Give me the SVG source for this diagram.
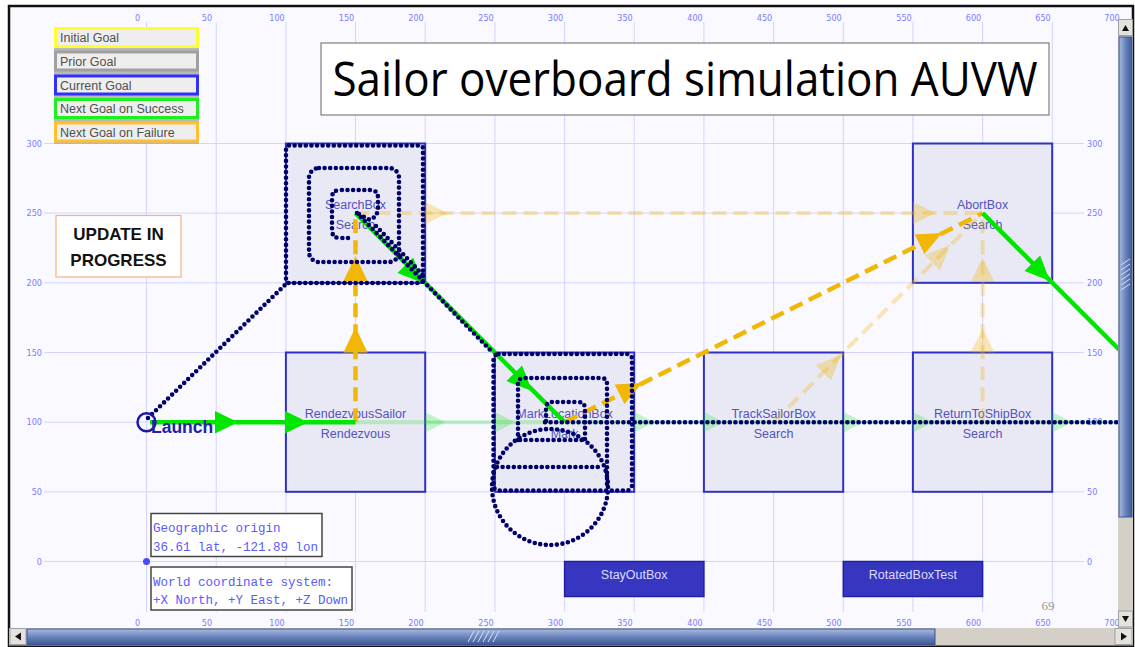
<svg xmlns="http://www.w3.org/2000/svg" width="1135" height="647" viewBox="0 0 1135 647">
<defs>
<style>
.grid{stroke:#d4d4ff;stroke-width:1;fill:none}
.tick{font-family:"DejaVu Sans Condensed","Liberation Sans",sans-serif;font-size:9px;fill:#7b7bff}
.box{fill:#e9e9f5;stroke:#3030c4;stroke-width:2}
.lbl{font-family:"Liberation Sans",Arial,sans-serif;font-size:12.5px;fill:#5353c0;text-anchor:middle}
.leg{font-family:"Liberation Sans",Arial,sans-serif;font-size:12.5px;fill:#505050}
.dots{fill:none;stroke:#00006a;stroke-width:4.6;stroke-linecap:round;stroke-dasharray:0 5.6}
.gr{fill:none;stroke:#00e600;stroke-width:4.5}
.grh{fill:#00e600}
.grf{fill:none;stroke:#00e000;stroke-width:4;opacity:0.22}
.grfh{fill:#00e000;opacity:0.22}
.or{fill:none;stroke:#f2b705;stroke-width:4.5;stroke-dasharray:14 7}
.orh{fill:#f2b705}
.orf{fill:none;stroke:#f2b705;stroke-width:4;stroke-dasharray:14 7;opacity:0.3}
.orfh{fill:#f2b705;opacity:0.3}
.mono{font-family:"Liberation Mono","DejaVu Sans Mono",monospace;font-size:12.5px;fill:#5a5aff}
.blk{font-family:"Liberation Sans",Arial,sans-serif;font-size:12.5px;fill:#dcdcff;text-anchor:middle}
</style>
<linearGradient id="vthumb" x1="0" y1="0" x2="1" y2="0">
<stop offset="0" stop-color="#a9bbe0"/><stop offset="0.5" stop-color="#6a84bd"/><stop offset="1" stop-color="#3f5a96"/>
</linearGradient>
<linearGradient id="hthumb" x1="0" y1="0" x2="0" y2="1">
<stop offset="0" stop-color="#a9bbe0"/><stop offset="0.5" stop-color="#6a84bd"/><stop offset="1" stop-color="#3f5a96"/>
</linearGradient>
</defs>
<rect width="1135" height="647" fill="#ffffff"/>
<rect x="9" y="6" width="1124" height="640" fill="#f9f9ff" stroke="#111" stroke-width="2.5"/>

<g id="grid">
<path class="grid" d="M146.5,22V612M216.2,22V612M285.9,22V612M355.5,22V612M425.2,22V612M494.9,22V612M564.6,22V612M634.2,22V612M703.9,22V612M773.6,22V612M843.3,22V612M912.9,22V612M982.6,22V612M1052.3,22V612M1122,22V612"/>
<path class="grid" d="M44,143.5H1084M44,213.1H1084M44,282.8H1084M44,352.5H1084M44,422.2H1084M44,491.8H1084M44,561.5H1084"/>
<g class="tick" text-anchor="middle">
<text x="137.5" y="21">0</text><text x="207" y="21">50</text><text x="277" y="21">100</text><text x="346.5" y="21">150</text><text x="416" y="21">200</text><text x="486" y="21">250</text><text x="555.5" y="21">300</text><text x="625" y="21">350</text><text x="695" y="21">400</text><text x="764.5" y="21">450</text><text x="834" y="21">500</text><text x="904" y="21">550</text><text x="973.5" y="21">600</text><text x="1043" y="21">650</text><text x="1112" y="21">700</text>
<text x="137.5" y="626">0</text><text x="207" y="626">50</text><text x="277" y="626">100</text><text x="346.5" y="626">150</text><text x="416" y="626">200</text><text x="486" y="626">250</text><text x="555.5" y="626">300</text><text x="625" y="626">350</text><text x="695" y="626">400</text><text x="764.5" y="626">450</text><text x="834" y="626">500</text><text x="904" y="626">550</text><text x="973.5" y="626">600</text><text x="1043" y="626">650</text><text x="1112" y="626">700</text>
</g>
<g class="tick" text-anchor="end">
<text x="42" y="146.5">300</text><text x="42" y="216">250</text><text x="42" y="286">200</text><text x="42" y="355.5">150</text><text x="42" y="425">100</text><text x="42" y="495">50</text><text x="42" y="564.5">0</text>
</g>
<g class="tick">
<text x="1087" y="146.5">300</text><text x="1087" y="216">250</text><text x="1087" y="286">200</text><text x="1087" y="355.5">150</text><text x="1087" y="425">100</text><text x="1087" y="495">50</text><text x="1087" y="564.5">0</text>
</g>
<circle cx="146.5" cy="561.5" r="3.5" fill="#4a4aff"/>
</g>

<g id="legend">
<rect x="54" y="27" width="145" height="117" fill="#b8b8b8"/>
<rect x="55.5" y="28.5" width="142" height="18" fill="#eeeeee" stroke="#ffff30" stroke-width="3"/>
<rect x="55.5" y="52" width="142" height="18" fill="#eeeeee" stroke="#a0a0a0" stroke-width="3"/>
<rect x="55.5" y="76" width="142" height="18" fill="#eeeeee" stroke="#3030ff" stroke-width="3"/>
<rect x="55.5" y="99.5" width="142" height="18" fill="#eeeeee" stroke="#20ee20" stroke-width="3"/>
<rect x="55.5" y="123" width="142" height="18" fill="#eeeeee" stroke="#ffc030" stroke-width="3"/>
<text class="leg" x="60" y="42">Initial Goal</text>
<text class="leg" x="60" y="65.5">Prior Goal</text>
<text class="leg" x="60" y="89.5">Current Goal</text>
<text class="leg" x="60" y="113">Next Goal on Success</text>
<text class="leg" x="60" y="136.5">Next Goal on Failure</text>
</g>

<g id="title">
<rect x="321" y="43" width="728" height="72" fill="#ffffff" stroke="#666" stroke-width="1"/>
<text x="685" y="96" font-family="'Open Sans','Noto Sans',sans-serif" font-size="47" fill="#000" text-anchor="middle" textLength="705" lengthAdjust="spacingAndGlyphs">Sailor overboard simulation AUVW</text>
</g>

<g id="update">
<rect x="56" y="215.5" width="125" height="61.5" fill="#ffffff" stroke="#f4b183" stroke-width="1.2"/>
<text x="118.5" y="240" font-family="'Liberation Sans',Arial,sans-serif" font-weight="bold" font-size="17" fill="#111" text-anchor="middle">UPDATE IN</text>
<text x="118.5" y="266" font-family="'Liberation Sans',Arial,sans-serif" font-weight="bold" font-size="17" fill="#111" text-anchor="middle">PROGRESS</text>
</g>

<g id="searchbox">
<rect class="box" x="285.9" y="143.5" width="139.3" height="139.3" stroke="#22229a"/>
<text class="lbl" x="355.5" y="209">SearchBox</text>
<text class="lbl" x="355.5" y="229">Search</text>
</g>
<g id="rendezvous">
<rect class="box" x="285.9" y="352.5" width="139.3" height="139.3" stroke="#ffff40"/>
<text class="lbl" x="355.5" y="418">RendezvousSailor</text>
<text class="lbl" x="355.5" y="438">Rendezvous</text>
</g>
<g id="marklocation">
<rect class="box" x="494.9" y="352.5" width="139.3" height="139.3"/>
<text class="lbl" x="564.6" y="418">MarkLocationBox</text>
<text class="lbl" x="564.6" y="438">Mark</text>
</g>
<g id="tracksailor">
<rect class="box" x="703.9" y="352.5" width="139.3" height="139.3"/>
<text class="lbl" x="773.6" y="418">TrackSailorBox</text>
<text class="lbl" x="773.6" y="438">Search</text>
</g>
<g id="returntoship">
<rect class="box" x="912.9" y="352.5" width="139.3" height="139.3"/>
<text class="lbl" x="982.6" y="418">ReturnToShipBox</text>
<text class="lbl" x="982.6" y="438">Search</text>
</g>
<g id="abortbox">
<rect class="box" x="912.9" y="143.5" width="139.3" height="139.3"/>
<text class="lbl" x="982.6" y="209">AbortBox</text>
<text class="lbl" x="982.6" y="229">Search</text>
</g>
<g id="stayout">
<rect x="564.6" y="561.5" width="139.3" height="35" fill="#3636c0" stroke="#2020a0" stroke-width="1.5"/>
<text class="blk" x="634.2" y="579">StayOutBox</text>
</g>
<g id="rotatedbox">
<rect x="843.3" y="561.5" width="139.3" height="35" fill="#3636c0" stroke="#2020a0" stroke-width="1.5"/>
<text class="blk" x="912.9" y="579">RotatedBoxTest</text>
</g>

<g id="connectors">
<path class="grf" d="M355.5,422.2H1125"/>
<path class="grfh" d="M425.2,412L445.2,422.2L425.2,432.4ZM494.9,412L514.9,422.2L494.9,432.4ZM634.2,412L654.2,422.2L634.2,432.4ZM703.9,412L723.9,422.2L703.9,432.4ZM843.3,412L863.3,422.2L843.3,432.4ZM912.9,412L932.9,422.2L912.9,432.4ZM1052.3,412L1072.3,422.2L1052.3,432.4Z"/>
<path class="orf" d="M355.5,213.1H982.6M773.6,422.2L982.6,213.1M982.6,422.2V213.1"/>
<path class="orfh" d="M425.2,202L448,213.1L425.2,224.2ZM912.9,202L935.7,213.1L912.9,224.2ZM831.1,380.5L841,355L815.5,364.9ZM940.1,270.5L950,245L924.5,254.9ZM970.6,352.5L982.6,329L994.6,352.5ZM970.6,282L982.6,258L994.6,282Z"/>
<path class="or" d="M355.5,422.2V213.1M564.6,422.2L982.6,213.1"/>
<path class="orh" d="M343.5,352.5L355.5,327L367.5,352.5ZM343.5,281L355.5,256L367.5,281ZM624.5,404L642,383L614.7,384.4ZM924.5,254L942,233L914.7,234.4Z"/>
<path class="gr" d="M150,422.2H355.5M355.5,213.1L564.6,422.2M982.6,213.1L1130,360.5"/>
<path class="grh" d="M215,411L238,422.2L215,433.4ZM285,411L308,422.2L285,433.4ZM397.5,273.1L423,283L413.1,257.5ZM506.5,381.1L532,391L522.1,365.5ZM1024.5,271.1L1050,281L1040.1,255.5Z"/>
</g>

<g id="trajectory">
<path class="dots" d="M148,418L286,284"/>
<rect class="dots" x="286" y="145.5" width="137" height="137.5" rx="3"/>
<rect class="dots" x="309" y="168" width="90" height="94" rx="10"/>
<path class="dots" d="M348,238H340Q332,238 332,230V198Q332,190 340,190H370Q378,190 378,198V208Q378,216 370,220L357,213"/>
<path class="dots" d="M357,213L493,353M376,226L424,276"/>
<rect class="dots" x="493.5" y="354" width="138.5" height="136.5" rx="5"/>
<path class="dots" d="M518,440V384Q518,378 524,378H601Q607,378 607,384V488"/>
<path class="dots" d="M520,440H587"/>
<path class="dots" d="M546,421V408Q546,402 552,402H578Q585,402 585,409V440"/>
<path class="dots" d="M497,467H600"/>
<circle class="dots" cx="550" cy="487" r="58"/>
<path class="dots" d="M545,422.2H1125"/>
</g>

<g id="launch">
<circle cx="146.5" cy="422.2" r="9" fill="none" stroke="#1a1aa6" stroke-width="2.5"/>
<text x="151" y="433" font-family="'Liberation Sans',Arial,sans-serif" font-weight="bold" font-size="17.5" fill="#2222aa">Launch</text>
</g>

<g id="geo">
<rect x="151" y="513.5" width="171" height="43" fill="#ffffff" stroke="#444" stroke-width="1.5"/>
<text class="mono" x="153" y="532">Geographic origin</text>
<text class="mono" x="153" y="551">36.61 lat, -121.89 lon</text>
<rect x="151" y="567" width="201" height="43" fill="#ffffff" stroke="#444" stroke-width="1.5"/>
<text class="mono" x="153" y="585.5">World coordinate system:</text>
<text class="mono" x="153" y="604">+X North, +Y East, +Z Down</text>
</g>

<text x="1048" y="610" font-family="'Liberation Serif',serif" font-size="13" fill="#999" text-anchor="middle">69</text>

<g id="scrollbars">
<rect x="1118" y="19" width="15" height="609" fill="#d4d0c8"/>
<rect x="1118.5" y="19.5" width="14" height="16" fill="#e4e2dc" stroke="#a0a0a0"/>
<path d="M1122,31L1125.5,25L1129,31Z" fill="#111"/>
<rect x="1119" y="37" width="13" height="480" fill="url(#vthumb)" stroke="#3a5590"/>
<path d="M1121,265L1130,259M1121,270L1130,264M1121,275L1130,269M1121,280L1130,274M1121,285L1130,279M1121,290L1130,284" stroke="#d8e0f0" stroke-width="1"/>
<rect x="1118.5" y="611" width="14" height="16" fill="#e4e2dc" stroke="#a0a0a0"/>
<path d="M1122,616L1125.5,622L1129,616Z" fill="#111"/>
<rect x="9" y="628" width="1124" height="17.5" fill="#d4d0c8"/>
<rect x="10" y="628.5" width="16" height="16" fill="#e4e2dc" stroke="#a0a0a0"/>
<path d="M21,632.5L15,636.5L21,640.5Z" fill="#111"/>
<rect x="27" y="629" width="908" height="15.5" fill="url(#hthumb)" stroke="#3a5590"/>
<path d="M468,642L474,631M473,642L479,631M478,642L484,631M483,642L489,631M488,642L494,631M493,642L499,631" stroke="#d8e0f0" stroke-width="1"/>
<rect x="1115" y="628.5" width="17" height="16" fill="#e4e2dc" stroke="#a0a0a0"/>
<path d="M1121,632.5L1127,636.5L1121,640.5Z" fill="#111"/>
</g>
</svg>
